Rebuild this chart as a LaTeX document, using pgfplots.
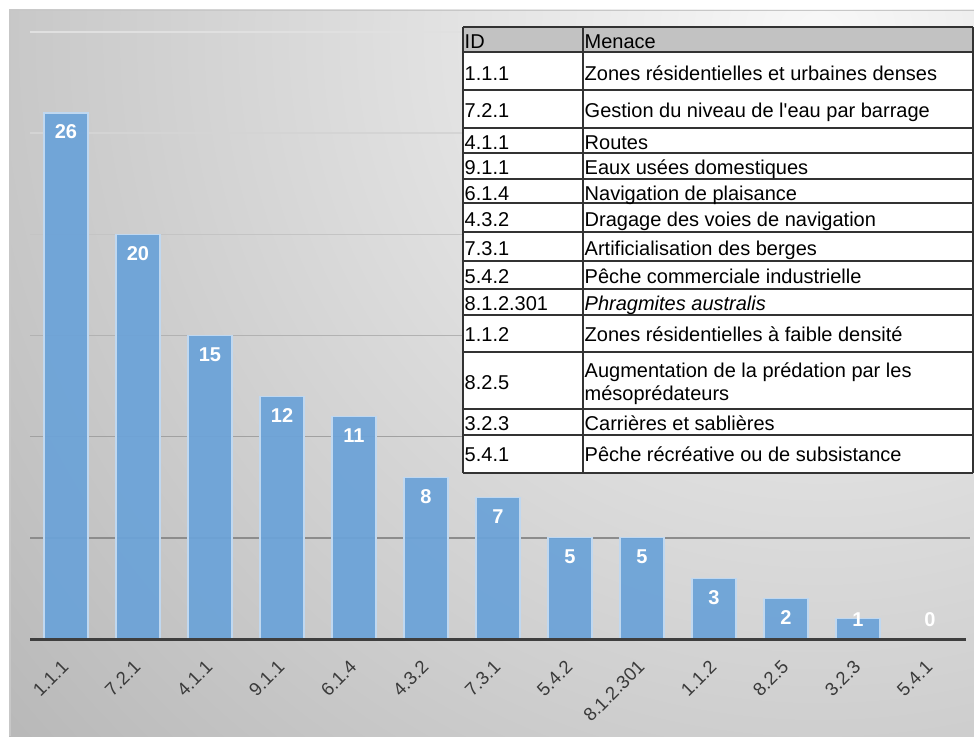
\documentclass[border=0pt]{standalone}
\usepackage{pgfplots}
\pgfplotsset{compat=1.18}
\usepackage{pgfplotstable}
\usepackage{fontspec}
\setmainfont{Liberation Sans}

\definecolor{barblue}{RGB}{108,163,216}
\definecolor{baredge}{RGB}{192,216,240}
\definecolor{axisdark}{RGB}{62,62,62}
\definecolor{ticktext}{RGB}{58,58,58}
\definecolor{headgray}{RGB}{194,194,194}
\definecolor{panellight}{RGB}{248,248,248}
\definecolor{paneldark}{RGB}{184,184,184}

% number of records per threat (val) and height of its value label (ly)
\pgfplotstableread{
x  val  ly
0  26   25.06
1  20   19.06
2  15   14.06
3  12   11.06
4  11   10.06
5  8    7.06
6  7    6.06
7  5    4.06
8  5    4.06
9  3    2.06
10 2    1.06
11 1    0.94
12 0    0.94
}\threats

\newcommand{\tabfont}{\fontsize{20}{23}\selectfont}

\begin{document}
\begin{tikzpicture}[x=1pt,y=1pt]
\path[use as bounding box] (0,0) rectangle (974,736);

% shaded chart panel
\begin{scope}
  \clip (9,0) rectangle (974,726);
  \shade[inner color=panellight, outer color=paneldark] (820,700) circle (1080);
\end{scope}
\draw[black!22, line width=1.5] (9.75,0) -- (9.75,725.25) -- (974,725.25);

\begin{axis}[
  at={(30pt,97pt)}, anchor=south west,
  scale only axis, width=936pt, height=607pt,
  xmin=-0.5, xmax=12.5, ymin=0, ymax=30,
  axis on top,
  axis y line=none,
  axis x line*=bottom,
  x axis line style={axisdark, line width=3pt},
  major tick length=0pt,
  ytick=\empty,
  xtick={0,...,12},
  xticklabels={1.1.1,7.2.1,4.1.1,9.1.1,6.1.4,4.3.2,7.3.1,5.4.2,8.1.2.301,1.1.2,8.2.5,3.2.3,5.4.1},
  xticklabel style={rotate=45, anchor=east, text=ticktext,
    font=\fontsize{18.5}{22}\selectfont, inner sep=0pt, xshift=-18pt, yshift=-17pt},
  clip=false,
]
% horizontal gridlines, darker toward the baseline
\draw[line width=1.5pt, black!45] (axis cs:-0.5,5)  -- (axis cs:12.55,5);
\draw[line width=1.5pt, black!37] (axis cs:-0.5,10) -- (axis cs:12.55,10);
\draw[line width=1.5pt, black!30] (axis cs:-0.5,15) -- (axis cs:12.55,15);
\draw[line width=1.5pt, black!23] (axis cs:-0.5,20) -- (axis cs:12.55,20);
\draw[line width=1.5pt, black!17] (axis cs:-0.5,25) -- (axis cs:12.55,25);
\draw[line width=1.5pt, black!12] (axis cs:-0.5,30) -- (axis cs:12.55,30);

\addplot[ybar, bar width=44pt, fill=barblue, fill opacity=0.94,
  draw=baredge, line width=1.2pt]
  table[x=x, y=val]{\threats};

\addplot[draw=none, mark=none, nodes near coords, point meta=explicit,
  nodes near coords={\pgfmathprintnumber[assume math mode=true]{\pgfplotspointmeta}},
  nodes near coords style={anchor=center, text=white,
    font=\bfseries\fontsize{20}{24}\selectfont}]
  table[x=x, y=ly, meta=val]{\threats};
\end{axis}

% table of threat names
\begin{scope}[yshift=736pt, y=-1pt]
  \fill[white] (463,52) rectangle (973,473);
  \fill[headgray] (463,27) rectangle (973,52);
  \foreach \r in {27,52,90,128,153,179,203,232,261,289,315,352,409,435,473}
    \draw[black!80, line width=1.2pt] (463,\r) -- (973,\r);
  \foreach \c in {463,583,973}
    \draw[black!80, line width=1.2pt] (\c,27) -- (\c,473);
  \tikzset{cell/.style={anchor=base west, inner sep=0pt, font=\tabfont, text=black}}
  \node[cell] at (464.5,48.5) {ID};
  \node[cell] at (584.5,48.5) {Menace};
  \node[cell] at (464.5,80.5) {1.1.1};
  \node[cell] at (584.5,80.5) {Zones résidentielles et urbaines denses};
  \node[cell] at (464.5,118) {7.2.1};
  \node[cell] at (584.5,118) {Gestion du niveau de l\textquotesingle eau par barrage};
  \node[cell] at (464.5,150) {4.1.1};
  \node[cell] at (584.5,150) {Routes};
  \node[cell] at (464.5,175) {9.1.1};
  \node[cell] at (584.5,175) {Eaux usées domestiques};
  \node[cell] at (464.5,200.5) {6.1.4};
  \node[cell] at (584.5,200.5) {Navigation de plaisance};
  \node[cell] at (464.5,227) {4.3.2};
  \node[cell] at (584.5,227) {Dragage des voies de navigation};
  \node[cell] at (464.5,255.5) {7.3.1};
  \node[cell] at (584.5,255.5) {Artificialisation des berges};
  \node[cell] at (464.5,284) {5.4.2};
  \node[cell] at (584.5,284) {Pêche commerciale industrielle};
  \node[cell] at (464.5,310.5) {8.1.2.301};
  \node[cell] at (584.5,310.5) {\itshape Phragmites australis};
  \node[cell] at (464.5,342) {1.1.2};
  \node[cell] at (584.5,342) {Zones résidentielles à faible densité};
  \node[cell] at (464.5,390) {8.2.5};
  \node[cell] at (584.5,378) {Augmentation de la prédation par les};
  \node[cell] at (584.5,401) {mésoprédateurs};
  \node[cell] at (464.5,430.5) {3.2.3};
  \node[cell] at (584.5,430.5) {Carrières et sablières};
  \node[cell] at (464.5,462) {5.4.1};
  \node[cell] at (584.5,462) {Pêche récréative ou de subsistance};
\end{scope}
\end{tikzpicture}
\end{document}
